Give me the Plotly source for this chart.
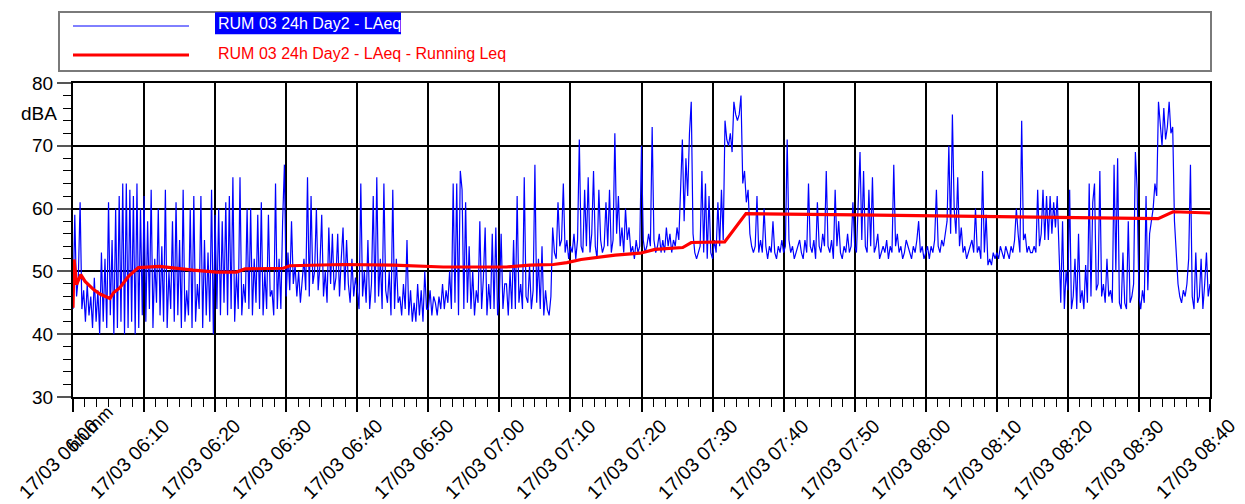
import pandas as pd
import plotly.graph_objects as go

# ---------------- data ----------------
START = "2024-03-17 06:00:00"
SAMPLE_SECONDS = 15  # one LAeq value every 15 s

laeq_0600 = [44,59,46,49, 61,44,47,42, 48,43,46,41, 49,42,47,40, 53,42,52,41, 61,43,55,40, 60,41,62,42, 64,40,64,41, 63,42,62,40, 64,41,60,43]
laeq_0610 = [62,42,58,44, 63,41,52,45, 60,43,54,42, 63,41,50,44, 58,42,61,43, 55,41,63,42, 47,43,60,41, 62,42,48,44, 62,41,55,43, 53,42,63,40]
laeq_0620 = [59,44,60,43, 58,45,61,43, 62,44,65,42, 50,44,65,43, 48,45,60,44, 60,43,52,45, 59,44,61,43, 50,44,59,46, 47,43,64,44, 52,44,58,67]
laeq_0630 = [46,53,47,58, 48,51,46,50, 45,48,52,47, 65,46,62,48, 50,60,47,51, 59,46,50,45, 57,48,56,47, 49,56,46,52, 57,47,55,48, 45,52,46,49]
laeq_0640 = [47,44,64,46, 50,45,55,44, 48,62,45,65, 46,52,44,64, 47,45,50,43, 63,44,52,45, 46,43,48,44, 55,43,47,42, 45,42,48,43, 47,42,50,44]
laeq_0650 = [44,47,43,46, 45,43,46,44, 48,44,47,45, 50,44,64,45, 64,43,66,63, 44,61,45,54, 44,50,43,47, 45,58,44,49, 57,43,48,44, 56,44,57,43]
laeq_0700 = [46,56,44,48, 48,43,50,44, 55,44,62,45, 48,44,65,46, 45,51,44,47, 67,45,52,44, 54,43,47,44, 43,46,57,53, 52,61,54,55, 64,53,55,52]
laeq_0710 = [54,53,56,52, 55,71,54,53, 63,54,65,53, 56,66,54,52, 63,55,53,54, 61,54,63,53, 55,72,56,62, 54,57,53,60, 55,57,53,54, 52,55,53,54]
laeq_0720 = [70,55,53,54, 56,54,73,55, 53,54,56,53, 55,53,57,54, 56,53,55,54, 57,55,63,71, 58,68,62,72, 77,56,53,52, 53,54,66,53, 64,52,62,53]
laeq_0730 = [52,55,53,61, 54,63,55,74, 71,70,72,69, 77,75,74,75, 78,64,66,61, 63,56,54,53, 54,62,53,55, 53,60,54,52, 54,53,58,53, 52,54,53,55]
laeq_0740 = [53,54,71,55, 53,54,52,53, 54,55,53,52, 55,53,64,54, 53,55,52,61, 54,53,56,54, 66,54,53,55, 52,63,54,58, 53,52,54,53, 56,53,54,61]
laeq_0750 = [54,53,61,69, 55,66,54,53, 63,54,65,53, 54,56,52,53, 54,53,55,52, 54,53,67,54, 56,53,54,52, 53,55,54,53, 52,54,53,55, 58,53,54,52]
laeq_0800 = [53,54,52,54, 53,55,63,54, 53,55,54,56, 58,70,56,75, 60,56,65,54, 57,53,54,52, 53,54,55,53, 60,53,54,52, 66,53,59,51, 52,51,53,52]
laeq_0810 = [53,52,54,53, 52,54,53,52, 54,53,55,60, 56,53,74,55, 56,53,54,53, 53,54,53,63, 54,56,63,55, 62,55,62,56, 61,57,62,55, 45,58,44,50]
laeq_0820 = [47,63,44,46, 52,44,56,45, 47,44,51,45, 64,46,61,64, 47,48,66,46, 48,45,52,46, 47,45,67,50, 68,45,44,53, 45,44,58,45, 46,48,69,63]
laeq_0830 = [46,44,47,45, 62,47,56,58, 60,64,62,77, 74,70,76,71, 73,77,72,73, 58,52,48,46, 45,47,46,48, 52,67,46,44, 53,45,46,52, 44,48,53,46]
laeq_0840 = [48]

running_leq_minutes = [0, 0.15, 0.5, 1.1, 1.7, 2.9, 3.8, 5.2, 5.7, 6.6, 7.8, 9.2, 12.2, 13.6, 16.9,
                       20.2, 23.0, 24.2, 29.6, 30.5, 38.0, 45.1, 52.1, 61.0, 64.3, 67.6, 69.5, 71.5,
                       76.3, 79.8, 81.9, 85.8, 87.0, 91.7, 94.7, 110.2, 124.5, 134.0, 145.9, 152.7,
                       154.8, 160.0]
running_leq_values = [44.2, 51.9, 47.9, 49.5, 48.4, 47.1, 46.4, 45.7, 46.6, 47.4, 49.2, 50.6, 50.8, 50.6, 50.2,
                      49.9, 49.9, 50.4, 50.5, 50.9, 51.1, 51.0, 50.7, 50.7, 51.0, 51.1, 51.4, 51.9,
                      52.6, 52.9, 53.5, 53.8, 54.6, 54.7, 59.2, 59.0, 58.8, 58.6, 58.4, 58.4,
                      59.5, 59.3]

tick_times = ["2024-03-17 06:00", "2024-03-17 06:10", "2024-03-17 06:20", "2024-03-17 06:30",
              "2024-03-17 06:40", "2024-03-17 06:50", "2024-03-17 07:00", "2024-03-17 07:10",
              "2024-03-17 07:20", "2024-03-17 07:30", "2024-03-17 07:40", "2024-03-17 07:50",
              "2024-03-17 08:00", "2024-03-17 08:10", "2024-03-17 08:20", "2024-03-17 08:30",
              "2024-03-17 08:40"]
tick_labels = ["17/03 06:00", "17/03 06:10", "17/03 06:20", "17/03 06:30", "17/03 06:40",
               "17/03 06:50", "17/03 07:00", "17/03 07:10", "17/03 07:20", "17/03 07:30",
               "17/03 07:40", "17/03 07:50", "17/03 08:00", "17/03 08:10", "17/03 08:20",
               "17/03 08:30", "17/03 08:40"]

series_names = ["RUM 03 24h Day2 - LAeq", "RUM 03 24h Day2 - LAeq - Running Leq"]

# ---------------- build ----------------
laeq = (laeq_0600 + laeq_0610 + laeq_0620 + laeq_0630 + laeq_0640 + laeq_0650 + laeq_0700 +
        laeq_0710 + laeq_0720 + laeq_0730 + laeq_0740 + laeq_0750 + laeq_0800 + laeq_0810 +
        laeq_0820 + laeq_0830 + laeq_0840)
start = pd.Timestamp(START)
laeq_times = pd.date_range(start, periods=len(laeq), freq=f"{SAMPLE_SECONDS}s")
leq_times = [start + pd.Timedelta(minutes=m) for m in running_leq_minutes]

FONT = "Liberation Sans, Arial, sans-serif"

fig = go.Figure()
fig.add_trace(go.Scatter(x=laeq_times, y=laeq, mode="lines", name=series_names[0],
                         line=dict(color="#0000ff", width=1.2), hoverinfo="skip"))
fig.add_trace(go.Scatter(x=leq_times, y=running_leq_values, mode="lines", name=series_names[1],
                         line=dict(color="#ff0000", width=3.2), hoverinfo="skip"))

# the page body adds an 8 px margin; all page coordinates below are shifted by it
OFF = 8
W, H = 1245 - OFF, 504 - OFF
L, R, T, B = 73 - OFF, 1210 - OFF, 83 - OFF, 397 - OFF


def px(xp):
    return (xp - OFF - L) / (R - L)


def py(yp):
    return (B - (yp - OFF)) / (B - T)


shapes = [
    # legend frame
    dict(type="rect", xref="paper", yref="paper", x0=px(59), x1=px(1211), y0=py(71), y1=py(12),
         line=dict(color="#7a7a7a", width=2), fillcolor="rgba(0,0,0,0)", layer="above"),
    # legend samples
    dict(type="line", xref="paper", yref="paper", x0=px(73), x1=px(189), y0=py(26), y1=py(26),
         line=dict(color="#0000ff", width=1)),
    dict(type="line", xref="paper", yref="paper", x0=px(73), x1=px(189), y0=py(55), y1=py(55),
         line=dict(color="#ff0000", width=3.2)),
    # selection highlight behind the first legend label
    dict(type="rect", xref="paper", yref="paper", x0=px(215), x1=px(401), y0=py(34.3), y1=py(12.3),
         line=dict(width=0), fillcolor="#0000ff", layer="above"),
]

annotations = [
    dict(text=series_names[0], xref="paper", yref="paper", x=px(216), y=py(23.3),
         xanchor="left", yanchor="middle", showarrow=False,
         font=dict(family=FONT, size=16, color="#ffffff")),
    dict(text=series_names[1], xref="paper", yref="paper", x=px(216), y=py(53.5),
         xanchor="left", yanchor="middle", showarrow=False,
         font=dict(family=FONT, size=16, color="#ff0000")),
    dict(text="dBA", xref="paper", yref="paper", x=px(59), y=py(113.5),
         xanchor="right", yanchor="middle", showarrow=False,
         font=dict(family=FONT, size=19, color="#000000")),
    dict(text="hh:mm", xref="paper", yref="paper", x=px(90), y=py(429),
         xanchor="center", yanchor="middle", showarrow=False, textangle=-45,
         font=dict(family=FONT, size=18, color="#000000")),
]
for tt, lab in zip(tick_times, tick_labels):
    annotations.append(dict(text=lab, x=tt, xref="x", y=0, yref="paper", yshift=-62, xshift=-15,
                            xanchor="center", yanchor="middle", textangle=-45, showarrow=False,
                            font=dict(family=FONT, size=19.5, color="#000000")))

fig.update_layout(
    width=W, height=H, autosize=False,
    margin=dict(l=L, r=W - R, t=T, b=H - B, pad=0),
    paper_bgcolor="#ffffff", plot_bgcolor="#ffffff",
    showlegend=False, hovermode=False,
    font=dict(family=FONT, size=19, color="#000000"),
    shapes=shapes, annotations=annotations,
)
fig.update_xaxes(
    type="date", range=[tick_times[0], tick_times[-1]],
    tick0=tick_times[0], dtick=600000, showticklabels=False,
    ticks="outside", ticklen=13, tickwidth=1.5, tickcolor="#000000",
    minor=dict(ticks="outside", ticklen=8, tickwidth=1, tickcolor="#000000",
               dtick=100000, tick0=tick_times[0], showgrid=False),
    showgrid=True, gridcolor="#000000", gridwidth=1.5,
    showline=True, linecolor="#000000", linewidth=2, mirror=True, zeroline=False,
)
fig.update_yaxes(
    range=[30, 80], tick0=30, dtick=10,
    ticks="outside", ticklen=14, tickwidth=1.5, tickcolor="#555555",
    minor=dict(ticks="outside", ticklen=8, tickwidth=1, tickcolor="#000000", dtick=2,
               tick0=30, showgrid=False),
    tickfont=dict(family=FONT, size=19, color="#000000"),
    showgrid=True, gridcolor="#000000", gridwidth=1.5,
    showline=True, linecolor="#000000", linewidth=2, mirror=True, zeroline=False,
)

fig.write_html("out.html", config={"displayModeBar": False})
